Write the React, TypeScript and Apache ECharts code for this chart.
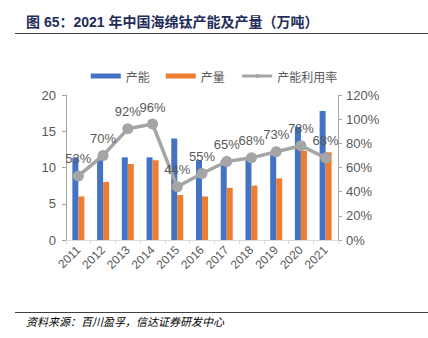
import React, { useEffect, useRef } from "react";
import * as echarts from "echarts";

const categories = ["2011", "2012", "2013", "2014", "2015", "2016", "2017", "2018", "2019", "2020", "2021"];
const capacity = [11.4, 11.4, 11.4, 11.4, 14.0, 11.0, 11.0, 11.2, 11.7, 15.6, 17.8];
const output = [6.0, 8.0, 10.5, 11.0, 6.2, 6.0, 7.2, 7.5, 8.5, 12.3, 12.1];
const utilization = [0.53, 0.70, 0.92, 0.96, 0.44, 0.55, 0.65, 0.68, 0.73, 0.78, 0.68];
const leftTicks = [0, 5, 10, 15, 20];

const FONT = "'Liberation Sans', 'Noto Sans CJK SC', sans-serif";
const CJK = "'Noto Sans CJK SC', sans-serif";
const GRAY = "#595959";

export default function App() {
  const ref = useRef<HTMLDivElement>(null);
  useEffect(() => {
    const chart = echarts.init(ref.current!, null, { renderer: "svg" });
    chart.setOption({
      animation: false,
      textStyle: { fontFamily: FONT },
      grid: { left: 66, right: 90, top: 95, bottom: 98, containLabel: false },
      legend: {
        top: 65,
        left: "center",
        itemWidth: 30,
        itemHeight: 5,
        itemGap: 16,
        textStyle: { color: GRAY, fontSize: 12, fontFamily: CJK },
        data: [
          { name: "产能", icon: "rect" },
          { name: "产量", icon: "rect" },
          {
            name: "产能利用率",
            itemStyle: { color: "#a5a5a5" },
            lineStyle: { color: "#a5a5a5", width: 3 },
          },
        ],
      },
      xAxis: {
        type: "category",
        data: categories,
        axisLine: { lineStyle: { color: "#d9d9d9", width: 1 } },
        axisTick: { show: true, alignWithLabel: false, length: 4, lineStyle: { color: "#d9d9d9" } },
        axisLabel: { color: GRAY, fontSize: 12, rotate: 45, margin: 8, interval: 0 },
      },
      yAxis: [
        {
          type: "value",
          min: leftTicks[0],
          max: leftTicks[leftTicks.length - 1],
          interval: 5,
          axisLine: { show: true, lineStyle: { color: "#a6a6a6" } },
          axisTick: { show: true, length: 4, lineStyle: { color: "#a6a6a6" } },
          splitLine: { show: false },
          axisLabel: { color: GRAY, fontSize: 13, margin: 10 },
        },
        {
          type: "value",
          min: 0,
          max: 1.2,
          interval: 0.2,
          position: "right",
          axisLine: { show: true, lineStyle: { color: "#a6a6a6" } },
          axisTick: { show: true, length: 4, lineStyle: { color: "#a6a6a6" } },
          splitLine: { show: false },
          axisLabel: {
            color: GRAY,
            fontSize: 13,
            margin: 8,
            formatter: (v: number) => Math.round(v * 100) + "%",
          },
        },
      ],
      series: [
        {
          name: "产能",
          type: "bar",
          data: capacity,
          barWidth: 6,
          barGap: "0%",
          itemStyle: { color: "#4472c4" },
        },
        {
          name: "产量",
          type: "bar",
          data: output,
          barWidth: 6,
          barGap: "0%",
          itemStyle: { color: "#ed7d31" },
        },
        {
          name: "产能利用率",
          type: "line",
          yAxisIndex: 1,
          data: utilization,
          symbol: "circle",
          symbolSize: 11,
          lineStyle: { color: "#a5a5a5", width: 3.5 },
          itemStyle: { color: "#a5a5a5" },
          label: {
            show: true,
            position: "top",
            distance: 5,
            color: GRAY,
            fontSize: 13,
            formatter: (p: any) => Math.round(p.value * 100) + "%",
          },
        },
      ],
      graphic: [
        {
          type: "text",
          left: 26,
          top: 15,
          style: {
            text: "图 65：2021 年中国海绵钛产能及产量（万吨）",
            fill: "#1f2d5a",
            font: "bold 14px 'Liberation Sans', 'Noto Sans CJK SC', sans-serif",
          },
        },
        {
          type: "line",
          shape: { x1: 15, y1: 33.5, x2: 428, y2: 33.5 },
          style: { stroke: "#404040", lineWidth: 1 },
        },
        {
          type: "line",
          shape: { x1: 15, y1: 312.5, x2: 428, y2: 312.5 },
          style: { stroke: "#404040", lineWidth: 1 },
        },
        {
          type: "text",
          left: 26,
          top: 315,
          style: {
            text: "资料来源：百川盈孚，信达证券研发中心",
            fill: "#000000",
            font: "italic 11px 'Noto Sans CJK SC', sans-serif",
          },
        },
      ],
    });
    return () => chart.dispose();
  }, []);
  return (
    <div
      ref={ref}
      style={{ position: "fixed", left: 0, top: 0, width: 428, height: 338, background: "#fff" }}
    />
  );
}
